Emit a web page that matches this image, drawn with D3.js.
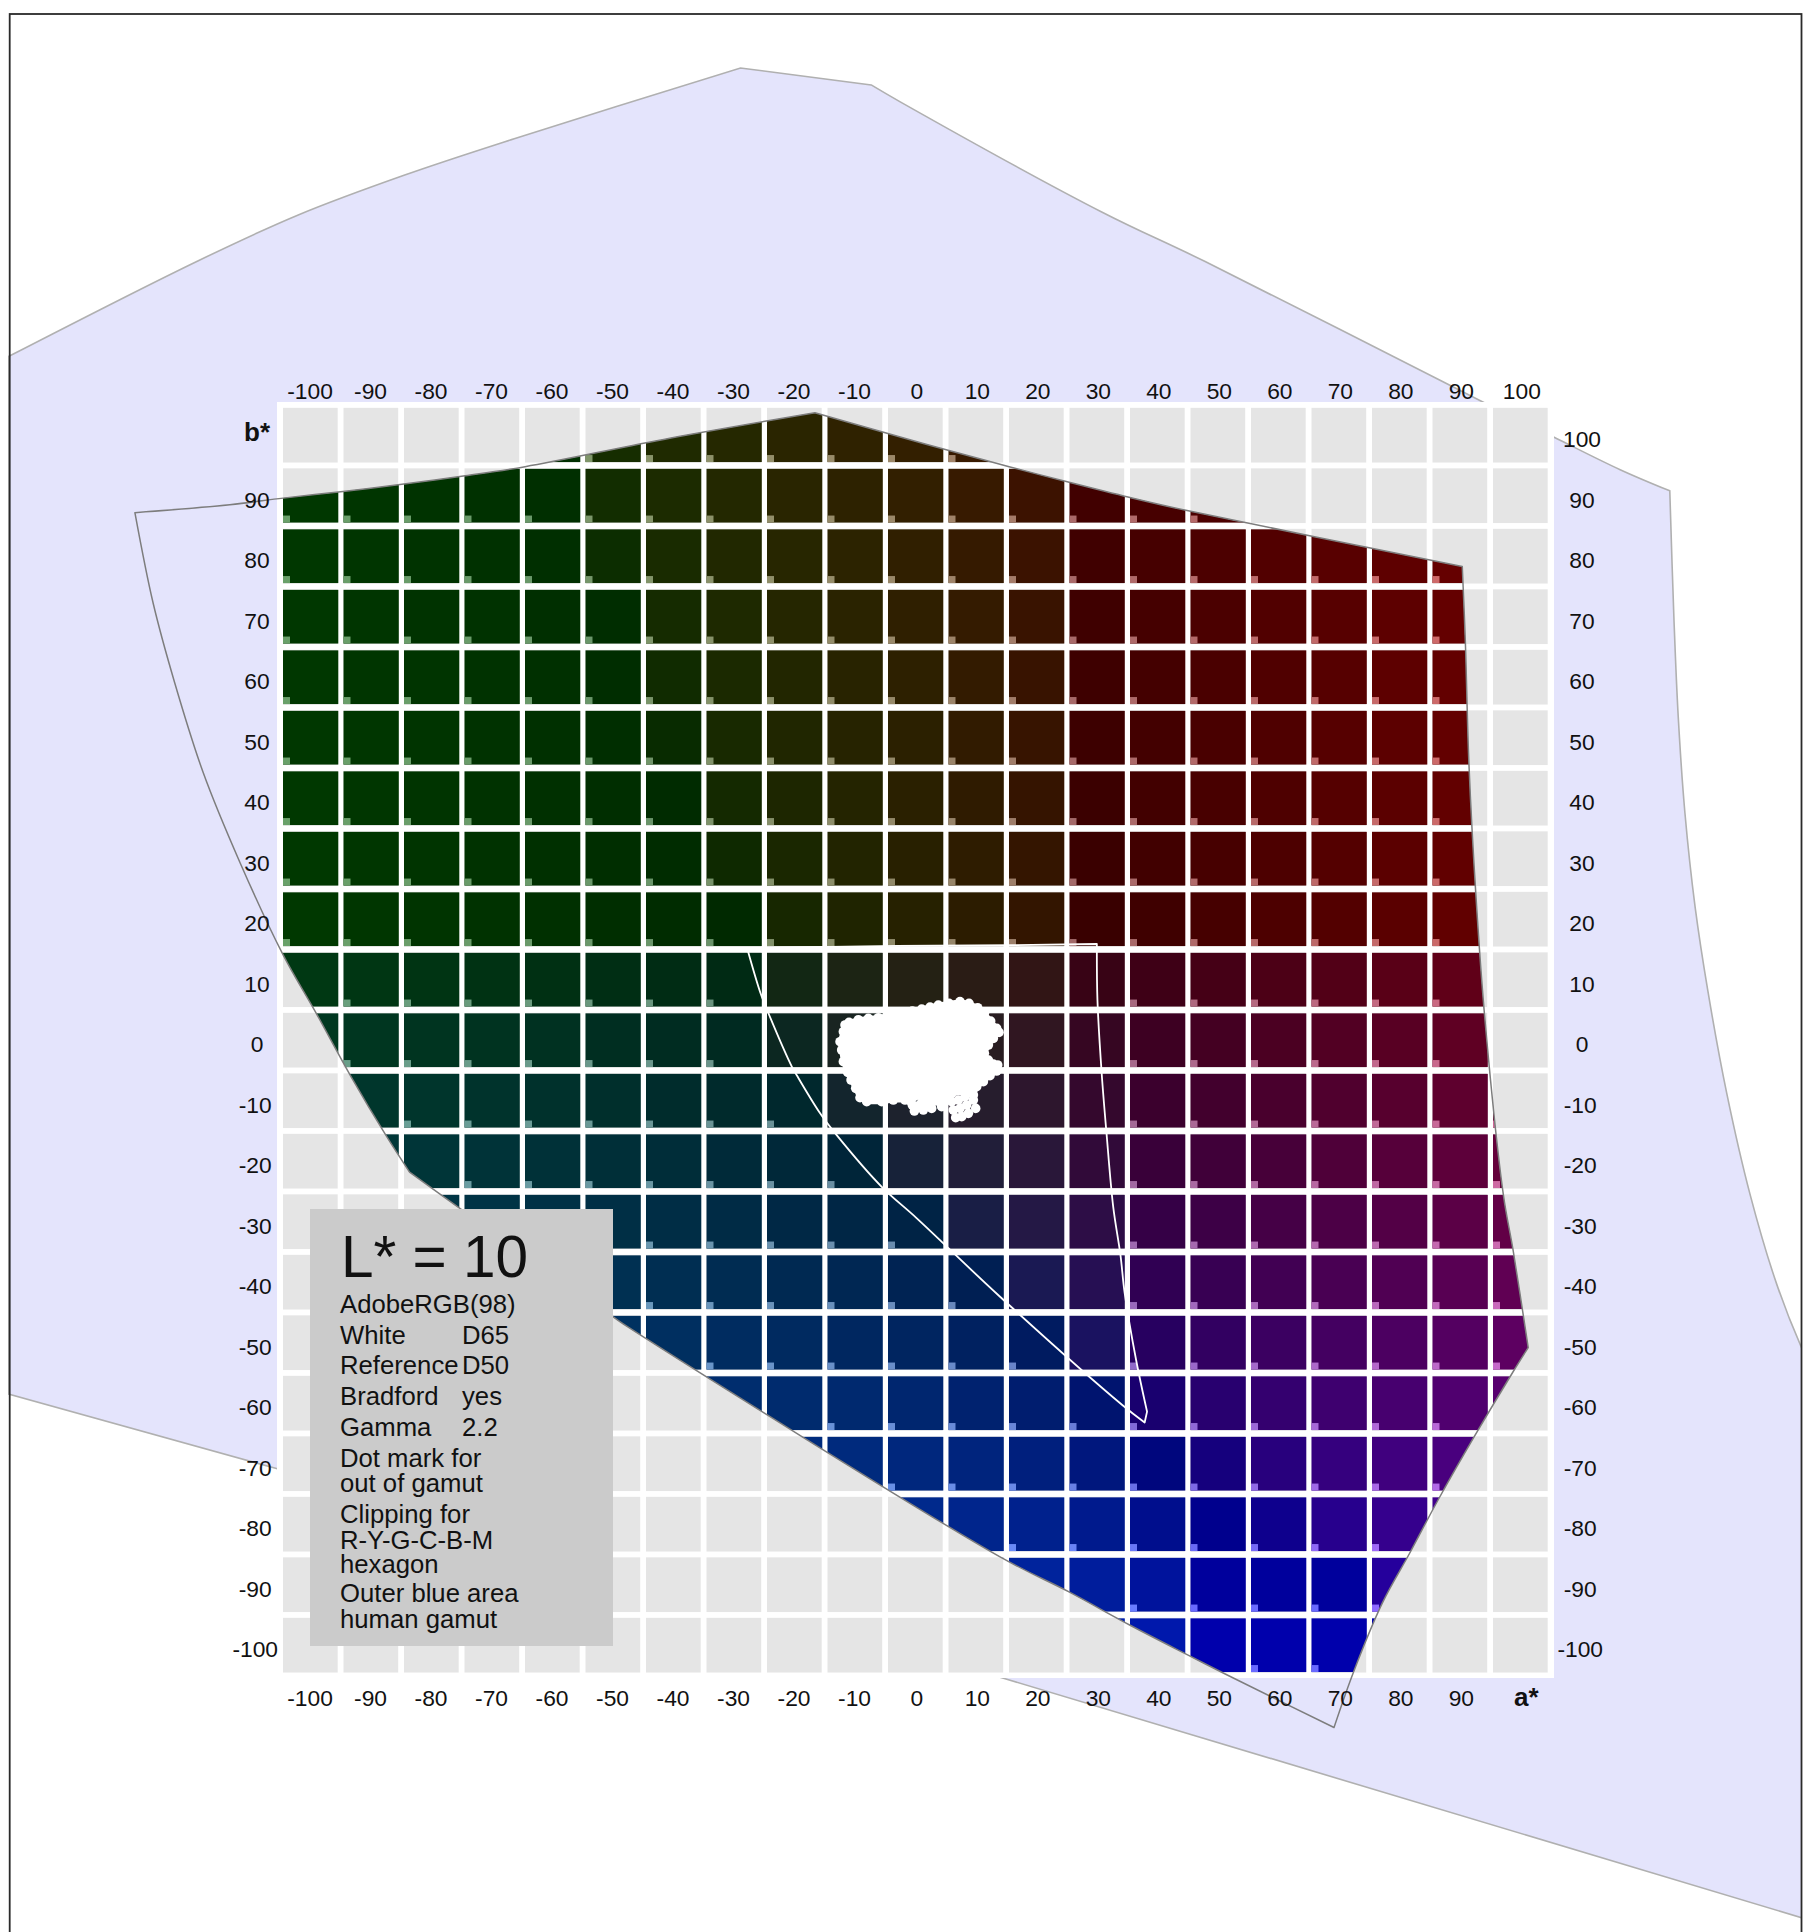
<!DOCTYPE html>
<html><head><meta charset="utf-8">
<style>html,body{margin:0;padding:0;background:#fff}svg{display:block}text{font-family:"Liberation Sans",Arial,sans-serif;fill:#111}</style>
<script src="https://cdn.jsdelivr.net/npm/d3@7"></script></head><body>
<script>
const lightness = 10;
const aValues = [-100,-90,-80,-70,-60,-50,-40,-30,-20,-10,0,10,20,30,40,50,60,70,80,90,100];
const bValues = [100,90,80,70,60,50,40,30,20,10,0,-10,-20,-30,-40,-50,-60,-70,-80,-90,-100];
const topTicks = aValues;
const bottomTicks = [-100,-90,-80,-70,-60,-50,-40,-30,-20,-10,0,10,20,30,40,50,60,70,80,90];
const leftTicks = [90,80,70,60,50,40,30,20,10,0,-10,-20,-30,-40,-50,-60,-70,-80,-90,-100];
const rightTicks = bValues;
// human gamut outline at L*=10 [a*, b*], one array per smooth stretch
const humanLeft = [[-149.9,113],[-118.6,128.8],[-102,136.4],[-84.4,143],[-66.3,149],[-28.9,160.7]];
const humanPeak = [[-28.9,160.7],[-7.3,157.9]];
const humanUpperRight = [[-7.3,157.9],[-2.5,155.1],[30.8,136.9],[47.9,128.7],[93.8,105.5],[105.5,99.7],[116.5,94.3],[124.7,90.8]];
const humanRight = [[124.7,90.8],[125.4,69.3],[126.1,53.4],[127.2,37.6],[128.9,21.9],[131,8.1],[134.1,-8.7],[138,-25.6],[142.4,-40.4],[146.6,-51.1],[152,-62]];
const humanBottom = [[152,-62],[152,-146.7],[14.7,-105.5],[-105.6,-70.8],[-149.9,-58.5]];
// R-Y-G-C-B-M hexagon edges
const edgeGY = [[-129,87.2],[-113.3,88.5],[-104.5,89.6],[-94.6,90.7],[-85.5,91.8],[-74.4,93.3],[-64.5,94.8],[-40.6,99.5],[-16.6,103.7]];
const edgeYR = [[-16.6,103.7],[-2.5,99.7],[5.1,97.6],[15.5,94.8],[25.1,92.3],[35.5,89.7],[45.1,87.5],[90.4,78.3]];
const edgeRM = [[90.4,78.3],[90.9,66.1],[91.5,45.7],[92.7,23.2],[94.2,2.8],[97.2,-25.6],[98.8,-34.7],[101.3,-50.8]];
const edgeMB = [[101.3,-50.8],[98.8,-54.8],[92.4,-65.5],[86.4,-76],[81.7,-84.8],[77.2,-93],[72.4,-104.5],[69.2,-113.6]];
const edgeBC = [[69.2,-113.6],[51.3,-104.8],[45,-101.6],[35.5,-96.7],[25.4,-91.2],[14,-85.4],[-47.2,-47.6],[-50,-45.7],[-75,-28],[-83.6,-21.8]];
const edgeCG = [[-83.6,-21.8],[-87.4,-15.9],[-93.4,-5.8],[-99,4.4],[-104.5,14.1],[-111.6,29.3],[-117.7,44.2],[-122.4,59],[-126,72.3],[-129,87.2]];
// white in-gamut outline
const gamutLeft = [[-27.8,15.2],[-25.6,7.8],[-24.3,4.5],[-20.4,-4.4],[-19.6,-5.8],[-15.8,-12],[-13,-15.7],[-5.6,-24.2],[0.2,-29.4],[14,-42.4],[34.2,-60.3],[37.9,-63.2]];
const gamutTip = [[37.9,-63.2],[38.3,-61.4]];
const gamutRight = [[38.3,-61.4],[36.5,-52.9],[34.6,-41.8],[33.9,-35.5],[32.7,-27.5],[31.6,-15.4],[30.8,-5.5],[30.1,6.6],[30,15.9]];
const gamutTop = [[30,15.9],[16.1,15.7],[-3.1,15.6],[-27.8,15.2]];
// image colours dot cloud: body outline and lower loose dots
const cloud = [[-10.96,2.95],[-9.42,3.39],[-7.77,3.61],[-6.11,3.72],[-4.19,4.16],[-2.53,4.44],[-0.5,4.82],[1.05,5.15],[2.43,5.48],[3.8,5.81],[5.57,6.09],[7.38,6.37],[8.87,6.09],[10.3,5.37],[11.41,4.44],[12.45,3.17],[13.44,1.96],[13.83,1.3],[12.89,0.3],[12.07,-0.8],[11.41,-2.17],[12.07,-3.28],[12.89,-3.94],[13.61,-4.1],[13.44,-5.09],[12.34,-5.87],[11.24,-6.86],[10.14,-7.68],[9.59,-9.06],[8.21,-8.6],[6.01,-8.8],[4.35,-10.5],[2.7,-10.3],[1.32,-9.5],[-0.16,-9.3],[-1.71,-9.89],[-3.64,-9.89],[-5.56,-10.16],[-8.04,-10.16],[-9.15,-9.5],[-9.86,-7.96],[-10.63,-6.58],[-11.18,-5.32],[-11.9,-3.55],[-12.18,-1.62],[-12.45,-0.25],[-11.9,1.41],[-11.63,2.51]];
const cloudTail = [[6.67,-12.81],[7.66,-12.64],[8.76,-12.09],[9.97,-11.27],[6.28,-11.54],[7.38,-11.27],[8.49,-10.71],[9.59,-9.89],[6.01,-10.16],[7.11,-9.89],[8.21,-9.34],[4.35,-10.99],[2.7,-11.27],[1.32,-11.54],[-0.16,-11.71],[-0.72,-10.16],[1.05,-10.3],[0.5,-10.83],[1.87,-10.6],[-0.5,-10.72],[4.08,-9.89]];
const legendLines = [["AdobeRGB(98)",1313],["White",1344],["Reference",1374],["Bradford",1405],["Gamma",1436],["Dot mark for",1467],["out of gamut",1492],["Clipping for",1523],["R-Y-G-C-B-M",1549],["hexagon",1573],["Outer blue area",1602],["human gamut",1628]];
const legendValues = [["D65",1344],["D50",1374],["yes",1405],["2.2",1436]];

const W=1803,H=1932;
const x=d3.scaleLinear().domain([-100,100]).range([310.35,1520.35]);
const y=d3.scaleLinear().domain([100,-100]).range([435.2,1645.2]);
const CELL=54.7;
const svg=d3.select("body").append("svg").attr("width",W).attr("height",H).attr("viewBox",`0 0 ${W} ${H}`);
const straight=d3.line().x(d=>x(d[0])).y(d=>y(d[1]));
const smooth=d3.line().x(d=>x(d[0])).y(d=>y(d[1])).curve(d3.curveCatmullRom.alpha(0.5));
// join stretches into one closed outline
const outline=parts=>parts.map(([pts,gen],i)=>{const s=gen(pts);return i?s.replace(/^M/,"L"):s;}).join("")+"Z";

const humanPath=outline([[humanLeft,smooth],[humanPeak,straight],[humanUpperRight,smooth],[humanRight,smooth],[humanBottom,straight]]);
const hexPath=outline([edgeGY,edgeYR,edgeRM,edgeMB,edgeBC,edgeCG].map(e=>[e,smooth]));
const gamutPath=outline([[gamutLeft,smooth],[gamutTip,straight],[gamutRight,smooth],[gamutTop,straight]]);

// colour model: Lab (D50) -> AdobeRGB, gamma 2.2, channels clipped at 0/1
function labToRgb(L,a,b){
  const fy=(L+16)/116,fx=fy+a/500,fz=fy-b/200;
  const inv=(f)=>f*f*f>0.008856?f*f*f:(116*f-16)/903.3;
  const X=0.96422*inv(fx),Y=(L>8?fy*fy*fy:L/903.3),Z=0.82521*inv(fz);
  return [ 1.9624274*X-0.6105343*Y-0.3413404*Z,
          -0.9787684*X+1.9161415*Y+0.0334540*Z,
           0.0286869*X-0.1406752*Y+1.3487655*Z];
}
const enc=v=>Math.round(255*Math.pow(Math.min(1,Math.max(0,v)),1/2.2));

const defs=svg.append("defs");
defs.append("clipPath").attr("id","frame").append("rect").attr("x",8).attr("y",14).attr("width",1794).attr("height",H);
defs.append("clipPath").attr("id","hex").append("path").attr("d",hexPath);

svg.append("path").attr("d",humanPath).attr("clip-path","url(#frame)")
  .attr("fill","#e4e4fc").attr("stroke","#b0b0b0").attr("stroke-width",1.6);
svg.append("rect").attr("x",9.7).attr("y",14).attr("width",1791.8).attr("height",H)
  .attr("fill","none").attr("stroke","#2a2a2a").attr("stroke-width",1.8);

// plate
svg.append("rect").attr("x",277).attr("y",402).attr("width",1277).attr("height",1276).attr("fill","#fff");

const cells=[];
for(const b of bValues)for(const a of aValues){
  const lin=labToRgb(lightness,a,b);
  cells.push({a,b,rgb:lin.map(enc),out:lin.some(v=>v<=0||v>=1)});
}
svg.append("g").selectAll("rect").data(cells).join("rect")
  .attr("x",d=>x(d.a)-CELL/2).attr("y",d=>y(d.b)-CELL/2).attr("width",CELL).attr("height",CELL).attr("fill","#e5e5e5");
const col=svg.append("g").attr("clip-path","url(#hex)");
col.selectAll("rect.c").data(cells).join("rect").attr("class","c")
  .attr("x",d=>x(d.a)-CELL/2).attr("y",d=>y(d.b)-CELL/2+0.5).attr("width",CELL+0.6).attr("height",CELL-1)
  .attr("fill",d=>d3.rgb(...d.rgb).formatHex());
col.selectAll("rect.m").data(cells.filter(d=>d.out)).join("rect").attr("class","m")
  .attr("x",d=>x(d.a)-CELL/2).attr("y",d=>y(d.b)+CELL/2-7.5).attr("width",7).attr("height",7)
  .attr("fill",d=>d3.rgb(...d.rgb.map(v=>Math.min(255,v+105))).formatHex());

// outlines
svg.append("path").attr("d",hexPath).attr("fill","none").attr("stroke","#7d7d7d").attr("stroke-width",1.5).attr("stroke-linejoin","round");
svg.append("path").attr("d",gamutPath).attr("fill","none").attr("stroke","#fff").attr("stroke-width",1.8).attr("stroke-linejoin","round");

// dot cloud
svg.append("path").attr("d",straight(cloud)+"Z").attr("fill","#fff").attr("stroke","#fff").attr("stroke-width",5).attr("stroke-linejoin","round");
svg.append("g").selectAll("circle").data(cloud.concat(cloudTail)).join("circle")
  .attr("cx",d=>x(d[0])).attr("cy",d=>y(d[1])).attr("r",4.8).attr("fill","#fff");

// axes: hyphen-minus labels, negative ones sit slightly further left
function styleAxis(g){
  g.select(".domain").remove();
  g.selectAll("text").attr("font-size",22.8).attr("fill","#111").attr("text-anchor","middle")
   .attr("font-family",'"Liberation Sans",Arial,sans-serif').attr("dy",0).attr("x",d=>d<0?-1.8:0).attr("y",0);
}
const label=d=>String(d);
svg.append("g").attr("transform","translate(1,399)").call(d3.axisTop(x).tickValues(topTicks).tickSize(0).tickFormat(label)).call(styleAxis);
svg.append("g").attr("transform","translate(1,1705.5)").call(d3.axisBottom(x).tickValues(bottomTicks).tickSize(0).tickFormat(label)).call(styleAxis);
svg.append("g").attr("transform","translate(257,11.6)").call(d3.axisLeft(y).tickValues(leftTicks).tickSize(0).tickFormat(label)).call(styleAxis);
svg.append("g").attr("transform","translate(1582,11.6)").call(d3.axisRight(y).tickValues(rightTicks).tickSize(0).tickFormat(label)).call(styleAxis);
svg.append("text").attr("x",244).attr("y",441).attr("font-size",26).attr("font-weight","bold").text("b*");
svg.append("text").attr("x",1514).attr("y",1705.5).attr("font-size",26).attr("font-weight","bold").text("a*");

// legend
svg.append("rect").attr("x",310).attr("y",1209).attr("width",303).attr("height",437).attr("fill","#cbcbcb");
svg.append("text").attr("x",341).attr("y",1277).attr("font-size",58.5).text("L* = 10");
svg.append("g").selectAll("text").data(legendLines).join("text").attr("x",340).attr("y",d=>d[1]).attr("font-size",25.7).text(d=>d[0]);
svg.append("g").selectAll("text").data(legendValues).join("text").attr("x",462).attr("y",d=>d[1]).attr("font-size",25.7).text(d=>d[0]);
</script></body></html>
